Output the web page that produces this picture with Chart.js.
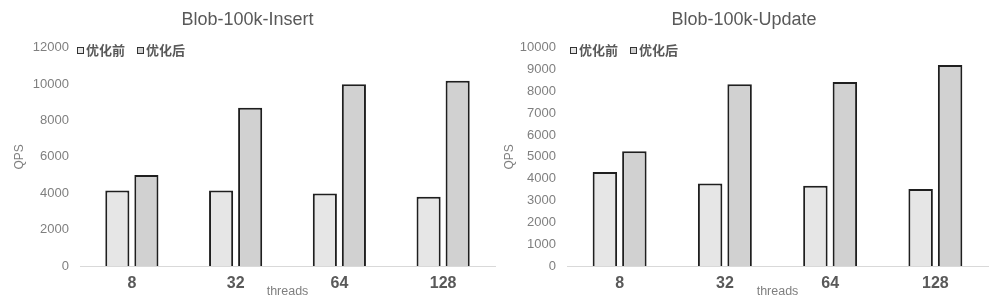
<!DOCTYPE html>
<html>
<head>
<meta charset="utf-8">
<script src="https://cdn.jsdelivr.net/npm/chart.js@4/dist/chart.umd.min.js"></script>
<style>
  html, body { margin: 0; padding: 0; background: #ffffff; }
  .wrap { position: absolute; top: 0; width: 500px; height: 302px; }
  #w1 { left: 0; }
  #w2 { left: 500px; }
</style>
</head>
<body>
<div class="wrap" id="w1"><canvas id="c1" width="500" height="302"></canvas></div>
<div class="wrap" id="w2"><canvas id="c2" width="500" height="302"></canvas></div>
<script>
const categories = ['8', '32', '64', '128'];
const seriesNames = ['优化前', '优化后'];
const insertBefore = [4150, 4150, 3980, 3800];
const insertAfter = [5000, 8700, 9990, 10180];
const updateBefore = [4300, 3780, 3670, 3520];
const updateAfter = [5250, 8320, 8420, 9200];
const insertTitle = 'Blob-100k-Insert';
const updateTitle = 'Blob-100k-Update';
const xTitle = 'threads';
const yTitle = 'QPS';

const FONT = '"Liberation Sans", "Noto Sans CJK SC", sans-serif';
const colors = ['#e6e6e6', '#d1d1d1'];

const legendPlugin = {
  id: 'innerLegend',
  afterDraw(chart, args, opts) {
    const ctx = chart.ctx;
    ctx.save();
    const y = opts.y;
    chart.data.datasets.forEach((ds, i) => {
      const bx = opts.x + i * opts.step;
      ctx.fillStyle = ds.backgroundColor;
      ctx.fillRect(bx, y - 3, 6, 6);
      ctx.strokeStyle = '#333333';
      ctx.lineWidth = 1;
      ctx.strokeRect(bx + 0.5, y - 2.5, 6, 6);
      ctx.fillStyle = '#595959';
      ctx.font = 'bold 13px ' + FONT;
      ctx.textBaseline = 'middle';
      ctx.textAlign = 'left';
      ctx.fillText(ds.label, bx + 9, y + 1);
    });
    ctx.restore();
  }
};

function makeChart(id, title, before, after, yMax, yStep, yWidth, padRight, yTitlePad, legendX) {
  return new Chart(document.getElementById(id), {
    type: 'bar',
    data: {
      labels: categories,
      datasets: [
        { label: seriesNames[0], data: before, backgroundColor: colors[0] },
        { label: seriesNames[1], data: after, backgroundColor: colors[1] }
      ]
    },
    options: {
      responsive: false,
      animation: false,
      events: [],
      layout: { padding: { left: 0, right: padRight, top: 0, bottom: 0 } },
      datasets: {
        bar: {
          categoryPercentage: 0.56,
          barPercentage: 0.83,
          borderColor: '#1f1f1f',
          borderWidth: { top: 2, left: 2, right: 2, bottom: 0 },
          borderSkipped: 'bottom'
        }
      },
      plugins: {
        legend: { display: false },
        tooltip: { enabled: false },
        title: {
          display: true,
          text: title,
          color: '#595959',
          font: { family: FONT, size: 18, weight: 'normal' },
          padding: { top: 9, bottom: 17 }
        },
        innerLegend: { x: legendX, y: 50, step: 60 }
      },
      scales: {
        x: {
          grid: { display: false, drawTicks: false },
          border: { display: true, color: '#d9d9d9', width: 1 },
          ticks: {
            color: '#595959',
            font: { family: FONT, size: 16, weight: 'bold' },
            padding: 8,
            maxRotation: 0
          },
          title: {
            display: true,
            text: xTitle,
            color: '#7f7f7f',
            font: { family: FONT, size: 12.5 },
            padding: { top: 0, bottom: 2.5 }
          },
          afterFit(scale) { scale.height = 36; }
        },
        y: {
          min: 0,
          max: yMax,
          grid: { display: false, drawTicks: false },
          border: { display: false },
          ticks: {
            stepSize: yStep,
            color: '#7f7f7f',
            font: { family: FONT, size: 13 },
            padding: 11,
            callback: (v) => String(v)
          },
          title: {
            display: true,
            text: yTitle,
            color: '#7f7f7f',
            font: { family: FONT, size: 12 },
            padding: { top: yTitlePad, bottom: 0 }
          },
          afterFit(scale) { scale.width = yWidth; }
        }
      }
    },
    plugins: [legendPlugin]
  });
}

makeChart('c1', insertTitle, insertBefore, insertAfter, 12000, 2000, 80, 5, 12.8, 77);
makeChart('c2', updateTitle, updateBefore, updateAfter, 10000, 1000, 67, 12, 2.8, 70);
</script>
</body>
</html>
